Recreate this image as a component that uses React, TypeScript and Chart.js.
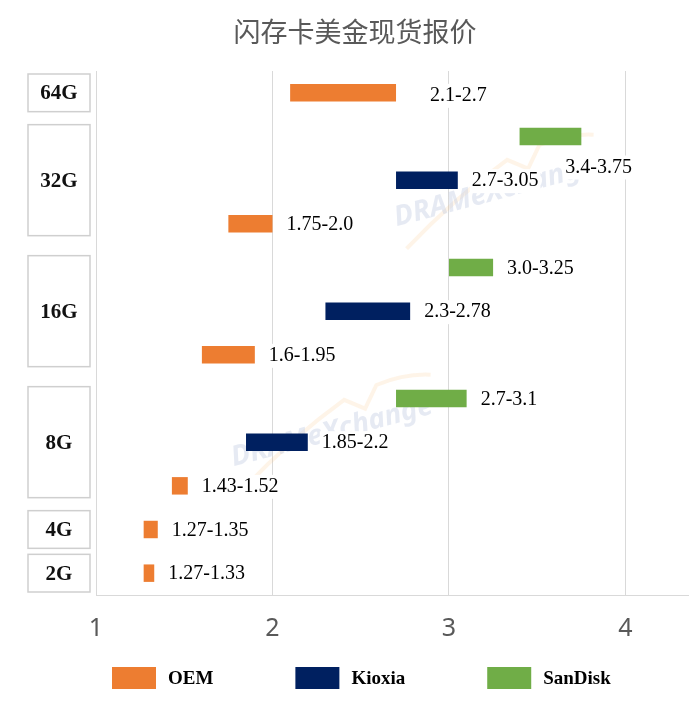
import React, { useEffect, useRef } from 'react';
import { Chart, registerables } from 'chart.js';

// Register Chart.js components
Chart.register(...registerables);

type Range = [number, number] | null;

// one row per bar, top to bottom
const rowNames = [
  '64G OEM',
  '32G SanDisk', '32G Kioxia', '32G OEM',
  '16G SanDisk', '16G Kioxia', '16G OEM',
  '8G SanDisk', '8G Kioxia', '8G OEM',
  '4G OEM',
  '2G OEM',
];
// the printed price range for each row
const rowLabels = [
  '2.1-2.7',
  '3.4-3.75', '2.7-3.05', '1.75-2.0',
  '3.0-3.25', '2.3-2.78', '1.6-1.95',
  '2.7-3.1', '1.85-2.2', '1.43-1.52',
  '1.27-1.35',
  '1.27-1.33',
];
const capacities = ['64G', '32G', '16G', '8G', '4G', '2G'];
const rowsPerCapacity = [1, 3, 3, 3, 1, 1];

const seriesNames = ['OEM', 'Kioxia', 'SanDisk'];
const seriesColors = ['#ED7D31', '#002060', '#70AD47'];

// bar extents as drawn
const oemPrices: Range[] = [
  [2.1, 2.7],
  null, null, [1.75, 2.0],
  null, null, [1.6, 1.9],
  null, null, [1.43, 1.52],
  [1.27, 1.35],
  [1.27, 1.33],
];
const kioxiaPrices: Range[] = [
  null,
  null, [2.7, 3.05], null,
  null, [2.3, 2.78], null,
  null, [1.85, 2.2], null,
  null,
  null,
];
const sandiskPrices: Range[] = [
  null,
  [3.4, 3.75], null, null,
  [3.0, 3.25], null, null,
  [2.7, 3.1], null, null,
  null,
  null,
];

const xTicks = [1, 2, 3, 4];
const title = '闪存卡美金现货报价';

// a couple of labels sit away from their bar in the original
const labelNudge: Record<string, [number, number]> = {
  '64G OEM': [20, 2],
  '32G SanDisk': [-30, 30],
};

const drawWatermark = (ctx: CanvasRenderingContext2D, cx: number, cy: number) => {
  ctx.save();
  ctx.translate(cx, cy);
  ctx.rotate(-0.26);
  ctx.strokeStyle = 'rgba(247, 185, 110, 0.16)';
  ctx.lineWidth = 4;
  ctx.beginPath();
  ctx.moveTo(-100, 32);
  ctx.quadraticCurveTo(-40, -5, 20, -28);
  ctx.lineTo(38, -14);
  ctx.lineTo(55, -34);
  ctx.quadraticCurveTo(85, -38, 110, -30);
  ctx.stroke();
  ctx.font = 'italic bold 28px "Noto Sans"';
  ctx.fillStyle = 'rgba(196, 204, 226, 0.42)';
  ctx.textAlign = 'center';
  ctx.textBaseline = 'middle';
  ctx.fillText('DRAMeXchange', 0, 0);
  ctx.restore();
};

const decorPlugin = {
  id: 'decor',
  beforeDatasetsDraw(chart: Chart) {
    const ctx = chart.ctx;
    drawWatermark(ctx, 495, 192);
    drawWatermark(ctx, 332, 432);
  },
  afterDatasetsDraw(chart: Chart) {
    const ctx = chart.ctx;
    ctx.save();
    ctx.font = '20px "Liberation Serif"';
    ctx.textBaseline = 'middle';
    ctx.textAlign = 'left';
    chart.data.datasets.forEach((ds, di) => {
      const meta = chart.getDatasetMeta(di);
      (ds.data as Range[]).forEach((v, i) => {
        if (!v) return;
        const el = meta.data[i] as any;
        const end = Math.max(el.x, el.base);
        const [dx, dy] = labelNudge[rowNames[i]] || [0, 0];
        const text = rowLabels[i];
        const x = end + 14 + dx;
        const y = el.y + 1 + dy;
        const w = ctx.measureText(text).width;
        ctx.fillStyle = '#ffffff';
        ctx.fillRect(x - 2, y - 12, w + 4, 24);
        ctx.fillStyle = '#000000';
        ctx.fillText(text, x, y);
      });
    });
    ctx.restore();
  },
  afterDraw(chart: Chart) {
    const ctx = chart.ctx;
    const area = chart.chartArea;
    const rowH = (area.bottom - area.top) / rowNames.length;
    ctx.save();

    // title
    ctx.font = '27px "Noto Sans CJK SC"';
    ctx.fillStyle = '#595959';
    ctx.textAlign = 'center';
    ctx.textBaseline = 'middle';
    ctx.fillText(title, 355, 32);

    // capacity boxes on the left
    let row = 0;
    capacities.forEach((cap, ci) => {
      const n = rowsPerCapacity[ci];
      const inset = n > 1 ? 10 : 3;
      const top = area.top + row * rowH + inset;
      const bottom = area.top + (row + n) * rowH - inset;
      ctx.strokeStyle = '#cfcfcf';
      ctx.lineWidth = 1.5;
      ctx.strokeRect(28, top, 62, bottom - top);
      ctx.font = 'bold 21px "Liberation Serif"';
      ctx.fillStyle = '#111111';
      ctx.textAlign = 'center';
      ctx.fillText(cap, 59, (top + bottom) / 2 + 1);
      row += n;
    });

    // legend
    ctx.font = 'bold 19px "Liberation Serif"';
    ctx.textAlign = 'left';
    let x = 112;
    seriesNames.forEach((s, si) => {
      ctx.fillStyle = seriesColors[si];
      ctx.fillRect(x, 667, 44, 22);
      ctx.fillStyle = '#000000';
      ctx.fillText(s, x + 56, 679);
      x += 56 + ctx.measureText(s).width + 82;
    });
    ctx.restore();
  },
};

const App: React.FC = () => {
  const chartRef = useRef<HTMLCanvasElement | null>(null);
  const chartInstance = useRef<Chart | null>(null);

  useEffect(() => {
    if (!chartRef.current) return;
    if (chartInstance.current) chartInstance.current.destroy();

    const series = [oemPrices, kioxiaPrices, sandiskPrices];

    chartInstance.current = new Chart(chartRef.current, {
      type: 'bar',
      data: {
        labels: rowNames,
        datasets: series.map((data, i) => ({
          label: seriesNames[i],
          data: data as any,
          backgroundColor: seriesColors[i],
          borderWidth: 0,
          grouped: false,
          barPercentage: 0.4,
          categoryPercentage: 1,
        })),
      },
      options: {
        indexAxis: 'y',
        responsive: false,
        animation: false,
        layout: { padding: { left: 96, right: 0, top: 71, bottom: 45 } },
        scales: {
          x: {
            type: 'linear',
            min: 1,
            max: 4.36,
            afterBuildTicks: (scale) => {
              scale.ticks = xTicks.map((value) => ({ value }));
            },
            grid: { color: '#d9d9d9', lineWidth: 1, drawTicks: false },
            border: { display: true, color: '#d9d9d9' },
            ticks: {
              padding: 19,
              color: '#595959',
              font: { family: '"Noto Sans"', size: 25 },
            },
          },
          y: {
            type: 'category',
            display: false,
          },
        },
        plugins: {
          legend: { display: false },
          tooltip: { enabled: false },
        },
      },
      plugins: [decorPlugin],
    });

    return () => {
      if (chartInstance.current) {
        chartInstance.current.destroy();
        chartInstance.current = null;
      }
    };
  }, []);

  return (
    <div style={{ position: 'fixed', left: 0, top: 0, width: 689, height: 708, background: '#fff' }}>
      <canvas ref={chartRef} width={689} height={708} />
    </div>
  );
};

export default App;
